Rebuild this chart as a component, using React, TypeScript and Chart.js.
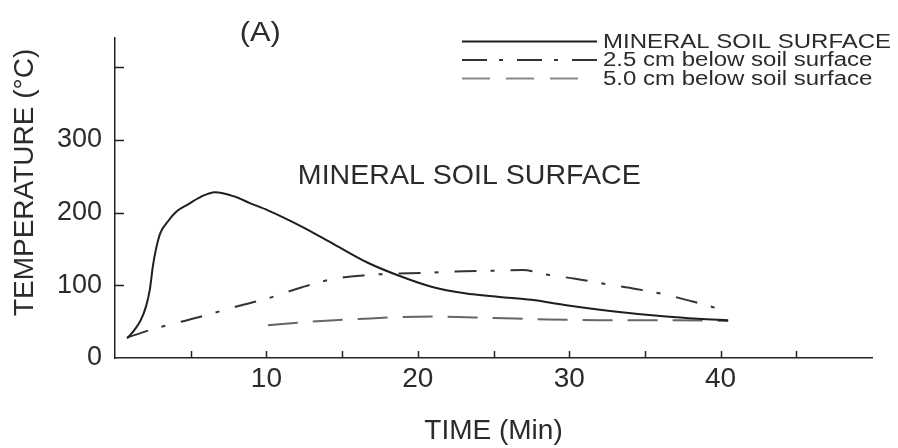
import { useEffect, useRef } from 'react';
import { Chart, registerables } from 'chart.js';

Chart.register(...registerables);

// ---- data ----
const surfaceTime = [0.8, 1.3, 1.7, 2.05, 2.3, 2.5, 2.7, 3.0, 3.5, 4.1, 4.8, 5.7, 6.6, 7.9, 8.9, 10.1, 12.3, 14.5, 16.7, 18.9, 20.9, 23.1, 25.4, 27.5, 29.7, 33.0, 36.4, 38.5, 40.5];
const surfaceTemp = [27, 39, 52, 71, 94, 126, 149, 172, 188, 202, 211, 222, 228, 222, 213, 203, 181, 156, 131, 112, 98, 89, 84, 80, 73, 64, 57, 54, 52];

const depth25Time = [0.8, 2.4, 4.0, 5.7, 7.9, 10.1, 12.3, 14.5, 16.7, 18.5, 20.3, 22.5, 24.9, 26.9, 28.7, 30.4, 32.6, 34.4, 36.4, 38.1, 40.5];
const depth25Temp = [28, 39, 48, 57, 70, 82, 97, 109, 114, 116, 117, 119, 120, 121, 114, 109, 101, 95, 87, 78, 64];

const depth50Time = [10.1, 12.3, 14.5, 16.5, 18.5, 21.0, 25.0, 28.5, 32.0, 36.0, 40.5];
const depth50Temp = [45, 49, 52, 54, 56, 57, 55, 53, 52, 52, 51];

const seriesLabels = ['MINERAL SOIL SURFACE', '2.5 cm below soil surface', '5.0 cm below soil surface'];
const xTickLabels = [10, 20, 30, 40];
const yTickLabels = [0, 100, 200, 300];
const panelLabel = '(A)';
const curveLabel = 'MINERAL SOIL SURFACE';
const xTitle = 'TIME (Min)';
const yTitle = 'TEMPERATURE (°C)';

const FONT = '"Liberation Sans", Arial, Helvetica, sans-serif';
const INK = '#2b2b2b';

function pts(xs: number[], ys: number[]) {
  return xs.map((x, i) => ({ x, y: ys[i] }));
}

function stretchedText(ctx: CanvasRenderingContext2D, text: string, x: number, y: number, size: number, sx: number, align: CanvasTextAlign) {
  ctx.save();
  ctx.translate(x, y);
  ctx.scale(sx, 1);
  ctx.font = `${size}px ${FONT}`;
  ctx.fillStyle = INK;
  ctx.textAlign = align;
  ctx.textBaseline = 'middle';
  ctx.fillText(text, 0, 0);
  ctx.restore();
}

const decorPlugin = {
  id: 'decor',
  afterDraw(chart: any) {
    const { ctx, scales } = chart;
    const x = scales.x;
    const y = scales.y;
    ctx.save();
    // inward tick marks
    ctx.strokeStyle = '#222';
    ctx.lineWidth = 1.5;
    ctx.setLineDash([]);
    for (const t of x.ticks) {
      if (t.value <= x.min || t.value >= x.max) continue;
      const px = Math.round(x.getPixelForValue(t.value)) + 0.5;
      ctx.beginPath();
      ctx.moveTo(px, y.bottom);
      ctx.lineTo(px, y.bottom - 7);
      ctx.stroke();
    }
    for (const t of y.ticks) {
      if (t.value <= y.min || t.value >= y.max) continue;
      const py = Math.round(y.getPixelForValue(t.value)) + 0.5;
      ctx.beginPath();
      ctx.moveTo(x.left, py);
      ctx.lineTo(x.left + 9, py);
      ctx.stroke();
    }

    // panel label and curve annotation
    stretchedText(ctx, panelLabel, x.getPixelForValue(9.6), y.getPixelForValue(447), 28, 1.1, 'center');
    stretchedText(ctx, curveLabel, x.getPixelForValue(23.4), y.getPixelForValue(250), 28, 1.02, 'center');

    // legend
    const rows = [41.5, 60, 78.5];
    const lineStart = 462;
    const lineEnds = [597, 600, 586];
    chart.data.datasets.forEach((ds: any, i: number) => {
      const ry = rows[i];
      ctx.save();
      ctx.strokeStyle = ds.legendColor || ds.borderColor;
      ctx.lineWidth = ds.borderWidth;
      ctx.setLineDash(ds.legendDash || ds.borderDash || []);
      ctx.beginPath();
      ctx.moveTo(lineStart, ry);
      ctx.lineTo(lineEnds[i], ry);
      ctx.stroke();
      ctx.restore();
      stretchedText(ctx, ds.label, 603, ry + 0.5, 20, 1.2, 'left');
    });
    ctx.restore();
  },
};

export default function App() {
  const canvasRef = useRef<HTMLCanvasElement | null>(null);

  useEffect(() => {
    if (!canvasRef.current) return;
    const chart = new Chart(canvasRef.current, {
      type: 'line',
      data: {
        datasets: [
          {
            label: seriesLabels[0],
            data: pts(surfaceTime, surfaceTemp),
            borderColor: '#1e1e1e',
            borderWidth: 2,
            pointRadius: 0,
            cubicInterpolationMode: 'monotone',
            fill: false,
          },
          {
            label: seriesLabels[1],
            data: pts(depth25Time, depth25Temp),
            borderColor: '#333333',
            borderWidth: 2,
            borderDash: [22, 14, 4, 16],
            legendDash: [25, 12, 4, 14],
            pointRadius: 0,
            cubicInterpolationMode: 'monotone',
            fill: false,
          },
          {
            label: seriesLabels[2],
            data: pts(depth50Time, depth50Temp),
            borderColor: '#666666',
            legendColor: '#8a8a8a',
            borderWidth: 2,
            borderDash: [30, 15],
            legendDash: [28, 16],
            pointRadius: 0,
            cubicInterpolationMode: 'monotone',
            fill: false,
          },
        ] as any,
      },
      options: {
        responsive: false,
        animation: false,
        layout: { padding: { top: 38, right: 26, bottom: 0, left: 0 } },
        plugins: {
          legend: { display: false },
          tooltip: { enabled: false },
        },
        scales: {
          x: {
            type: 'linear',
            min: 0,
            max: 50,
            grid: { display: false },
            border: { display: true, color: '#222', width: 1.5 },
            ticks: {
              stepSize: 5,
              autoSkip: false,
              maxRotation: 0,
              includeBounds: false,
              padding: -4,
              color: INK,
              font: { family: FONT, size: 28 },
              callback: (v: any) => (xTickLabels.includes(Number(v)) ? String(v) : ''),
            },
            title: {
              display: true,
              text: xTitle,
              color: INK,
              font: { family: FONT, size: 28 },
              padding: { top: 0, bottom: 0 },
            },
            afterFit: (s: any) => {
              s.height = 90;
            },
          },
          y: {
            type: 'linear',
            min: 0,
            max: 440,
            grid: { display: false },
            border: { display: true, color: '#222', width: 1.5 },
            ticks: {
              stepSize: 100,
              includeBounds: false,
              padding: 5,
              color: INK,
              font: { family: FONT, size: 27 },
              callback: (v: any) => (yTickLabels.includes(Number(v)) ? String(v) : ''),
            },
            title: {
              display: true,
              text: '    ' + yTitle,
              color: INK,
              font: { family: FONT, size: 28 },
              padding: { top: 8, bottom: 0 },
            },
            afterFit: (s: any) => {
              s.width = 115;
            },
          },
        },
      } as any,
      plugins: [decorPlugin],
    });
    return () => chart.destroy();
  }, []);

  return (
    <div style={{ position: 'fixed', left: 0, top: 0, width: 898, height: 448, background: '#fff' }}>
      <canvas ref={canvasRef} width={898} height={448} />
    </div>
  );
}
